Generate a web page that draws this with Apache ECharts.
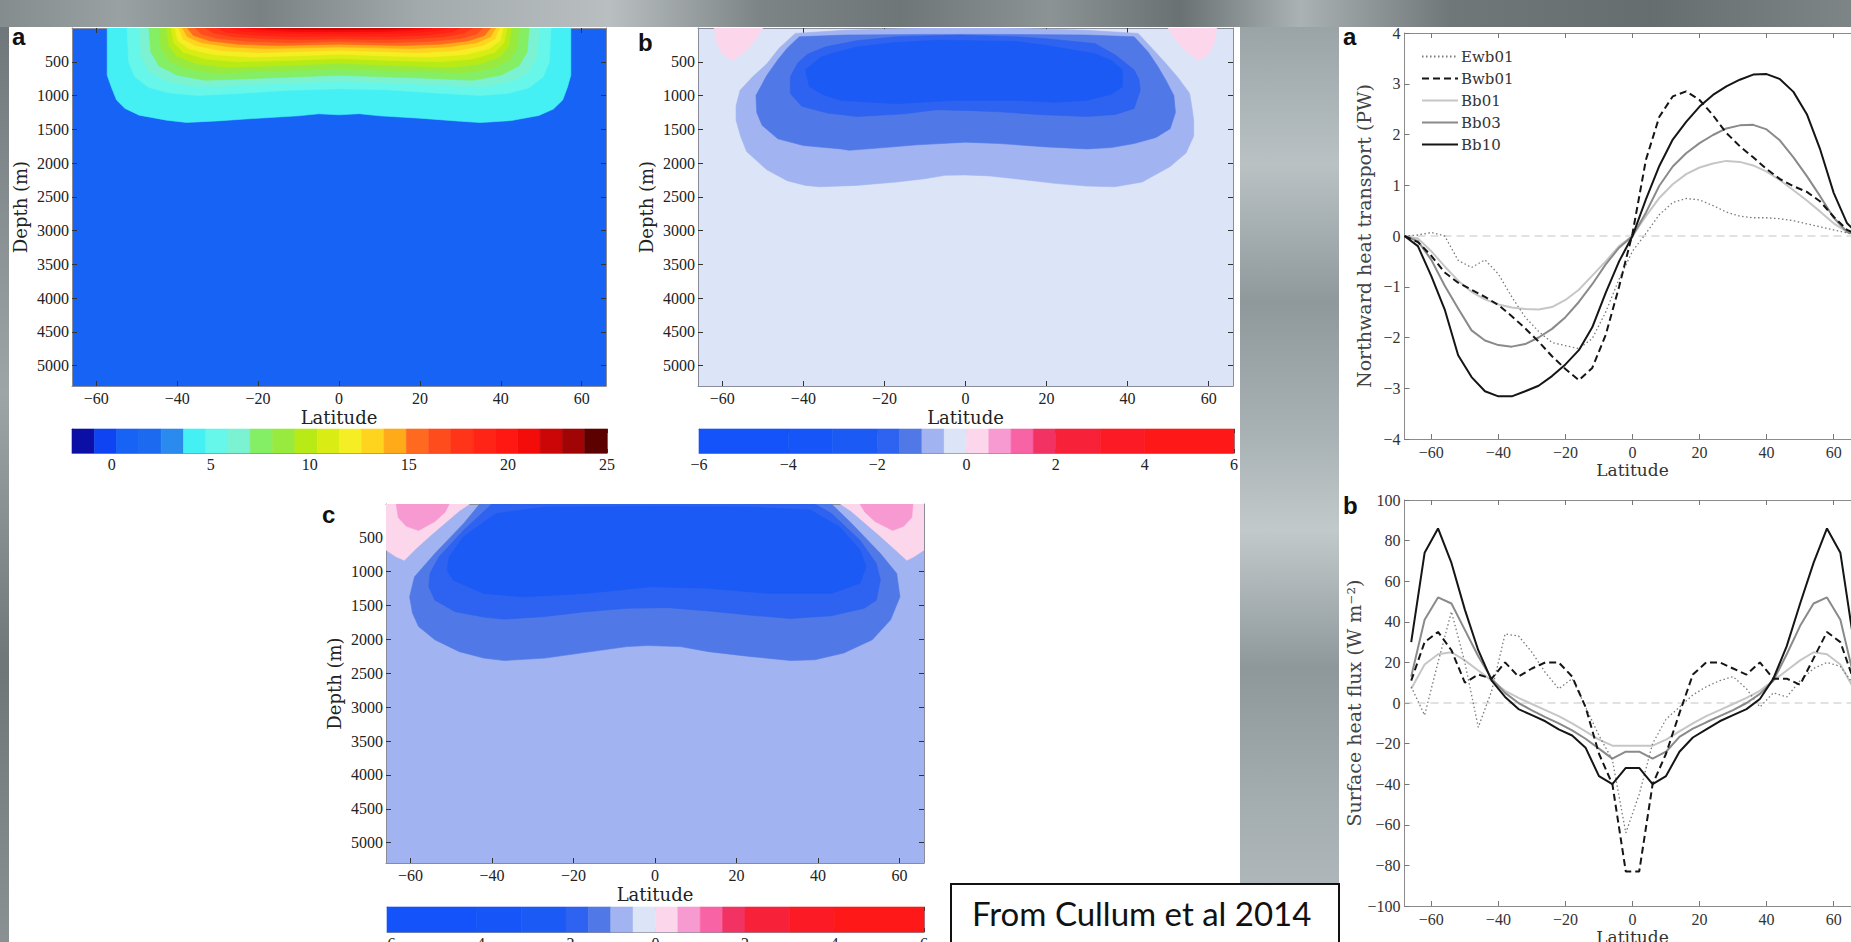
<!DOCTYPE html>
<html><head><meta charset="utf-8">
<script src="https://cdn.jsdelivr.net/npm/echarts@6/dist/echarts.min.js"></script>
<style>
html,body{margin:0;padding:0;width:1851px;height:942px;overflow:hidden;background:#8e9799;}
.bg{position:absolute;}
#chart{position:absolute;left:0;top:0;width:1851px;height:942px;}
</style></head><body>
<div class="bg" style="left:0;top:0;width:1851px;height:27px;background:linear-gradient(90deg,#858c8e 0px,#9aa1a3 120px,#7a8183 260px,#a3aaac 420px,#b9bfc1 610px,#7d8486 760px,#6f7678 900px,#8c9395 1050px,#6a7173 1180px,#aab2b4 1300px,#6f7779 1450px,#666d6f 1650px,#7e8587 1851px);"></div>
<div class="bg" style="left:0;top:27px;width:9px;height:915px;background:linear-gradient(180deg,#70777a,#9ea5a7 40%,#6f7678 70%,#8a9193);"></div>
<div class="bg" style="left:1240px;top:27px;width:99px;height:915px;background:linear-gradient(180deg,#9aa4a6 0,#b9c1c3 15%,#8f999b 30%,#a9b2b4 45%,#c2c9cb 55%,#8e989a 70%,#a4adb0 85%,#b5bdbf 100%);"></div>
<div class="bg" style="left:9px;top:27px;width:1231px;height:915px;background:#fff;"></div>
<div class="bg" style="left:1339px;top:27px;width:512px;height:915px;background:#fff;"></div>
<div id="chart"></div>
<script>
// ---------------- tick labels ----------------
const latTicks = [-60, -40, -20, 0, 20, 40, 60];
const depthTicks = [500, 1000, 1500, 2000, 2500, 3000, 3500, 4000, 4500, 5000];
const cbarATicks = [0, 5, 10, 15, 20, 25];
const cbarBTicks = [-6, -4, -2, 0, 2, 4, 6];

// ---------------- colour bars ----------------
const cbarAEdges = [-2, -0.875, 0.25, 1.375, 2.5, 3.625, 4.75, 5.875, 7, 8.125, 9.25, 10.375, 11.5, 12.625, 13.75, 14.875, 16, 17.125, 18.25, 19.375, 20.5, 21.625, 22.75, 23.875, 25];
const cbarAColors = ['#0B0FA6','#0E44F2','#1763F6','#1C6AF0','#2A8AEE','#45F0F5','#66F6EA','#7BF3D2','#84EE64','#98EB3E','#B8EB16','#D9EC14','#F6EE24','#FFD41E','#FFAA18','#FF6A20','#FF4C1C','#FF3418','#FF2416','#FF1812','#F40C0A','#CC0606','#A00404','#5C0000'];
const cbarBEdges = [-6, -4, -3, -2, -1.5, -1, -0.5, 0, 0.5, 1, 1.5, 2, 3, 4, 6];
const cbarBColors = ['#1452FA','#1656F8','#1B5AF5','#2E62F0','#5078E6','#A1B3F0','#DCE4F7','#FCD7EC','#F89AD2','#F863A5','#F23262','#F8213A','#FC1A24','#FF1818'];

// ---------------- panel a contours (lat, depth m) ----------------
const aLevel6 = [[-57.3,0],[-57.3,700],[-56.3,870],[-55,1065],[-52.9,1190],[-49.4,1290],[-42.6,1365],[-37.7,1398],[-30,1375],[-20,1335],[-10,1300],[-5,1270],[0,1285],[5,1268],[10,1300],[20,1335],[30,1380],[35,1400],[42.6,1370],[49.4,1295],[53,1200],[55.3,1065],[56.5,870],[57.3,700],[57.3,0]];
const aLevel7 = [[-52.4,0],[-52,500],[-50.5,720],[-47,880],[-42,960],[-35,1000],[-25,970],[-12,920],[0,900],[12,915],[25,965],[35,1000],[42,965],[47,885],[50.5,720],[52,500],[52.4,0]];
const aLevel8 = [[-49.5,0],[-49,420],[-47,640],[-43,780],[-37,860],[-30,870],[-18,830],[0,790],[18,825],[30,865],[37,860],[43,785],[47,645],[49,420],[49.5,0]];
const aLevel9 = [[-47,0],[-46.5,360],[-44.5,560],[-40,700],[-33,775],[-22,750],[0,700],[22,745],[33,775],[40,700],[44.5,560],[46.5,360],[47,0]];
const aLevel10 = [[-44.5,0],[-44,300],[-42,480],[-38,600],[-31,665],[-20,645],[0,600],[20,645],[31,665],[38,600],[42,480],[44,300],[44.5,0]];
const aLevel11 = [[-42.6,0],[-42,260],[-40,420],[-35,530],[-28,580],[-16,560],[0,520],[16,560],[28,580],[35,530],[40,420],[42,260],[42.6,0]];
const aLevel12 = [[-41.5,0],[-40.8,220],[-38.5,360],[-33,460],[-25,500],[-12,480],[0,450],[12,480],[25,500],[33,460],[38.5,360],[40.8,220],[41.5,0]];
const aLevel13 = [[-40.6,0],[-39.8,190],[-37,310],[-31,395],[-22,430],[-10,410],[0,390],[10,410],[22,430],[31,395],[37,310],[39.8,190],[40.6,0]];
const aLevel14 = [[-39.6,0],[-38.6,160],[-35.5,260],[-29,335],[-20,365],[-8,345],[0,330],[8,345],[20,365],[29,335],[35.5,260],[38.6,160],[39.6,0]];
const aLevel15 = [[-38.7,0],[-37.5,130],[-34,220],[-27,280],[-18,305],[-6,290],[0,280],[6,290],[18,305],[27,280],[34,220],[37.5,130],[38.7,0]];
const aLevel16 = [[-37.5,0],[-36,110],[-32,190],[-25,240],[-15,260],[0,240],[15,260],[25,240],[32,190],[36,110],[37.5,0]];
const aLevel17 = [[-35.5,0],[-34,90],[-30,155],[-22,200],[-12,215],[0,200],[12,215],[22,200],[30,155],[34,90],[35.5,0]];
const aLevel18 = [[-33,0],[-31,75],[-26,130],[-18,160],[-8,170],[0,160],[8,170],[18,160],[26,130],[31,75],[33,0]];
const aLevel19 = [[-30,0],[-28,60],[-22,100],[-12,125],[0,120],[12,125],[22,100],[28,60],[30,0]];
const aLevel20 = [[-27,0],[-24,45],[-17,75],[-6,90],[6,90],[17,75],[24,45],[27,0]];
const aLevel21 = [[-23,0],[-19,30],[-10,55],[0,55],[10,55],[19,30],[23,0]];
const aLevel22 = [[-18,0],[-12,18],[0,28],[12,18],[18,0]];
const panelALayers = [[aLevel6,5],[aLevel7,6],[aLevel8,7],[aLevel9,8],[aLevel10,9],[aLevel11,10],[aLevel12,11],[aLevel13,12],[aLevel14,13],[aLevel15,14],[aLevel16,15],[aLevel17,16],[aLevel18,17],[aLevel19,18],[aLevel20,19],[aLevel21,20],[aLevel22,21]];

// ---------------- panel b contours ----------------
const bPinkWest = [[-62,0],[-50,0],[-51.5,150],[-54,330],[-57.5,480],[-60,380],[-61.5,200]];
const bPinkEast = [[50,0],[62,0],[61.5,200],[60,380],[57.5,480],[54,330],[51.5,150]];
const bBand1 = [[-42,80],[-46,300],[-49,530],[-52.5,720],[-55.6,920],[-56.6,1150],[-56.6,1365],[-55.5,1600],[-54,1830],[-49,2100],[-44,2260],[-39.5,2330],[-36,2350],[-27,2330],[-17,2280],[-10,2230],[-5,2180],[0,2175],[6,2190],[15,2250],[22,2300],[30,2340],[36.8,2350],[43.6,2280],[50.5,2050],[54.4,1850],[56.3,1600],[56.3,1365],[55.8,1150],[55.3,970],[52.5,740],[49.5,530],[46,300],[42.6,80],[30,35],[10,0],[-10,0],[-30,35]];
const bBand2 = [[-41,130],[-44,300],[-46.3,470],[-49,700],[-51.7,1000],[-51.5,1250],[-50.2,1440],[-46.3,1640],[-40,1740],[-30.7,1790],[-28.7,1810],[-20,1770],[-12,1730],[0,1690],[8.4,1710],[20,1760],[30,1790],[36,1770],[41.6,1710],[47,1620],[50.5,1490],[51.8,1250],[51.4,1000],[49.5,780],[47.5,575],[45,350],[41.6,130],[30,105],[10,95],[-10,95],[-30,105]];
const bBand3 = [[-41.4,520],[-43.2,720],[-43.2,970],[-40.4,1160],[-34,1260],[-26.8,1310],[-15,1270],[-7.2,1210],[0,1220],[8.4,1240],[18,1280],[30,1310],[37,1280],[41.6,1190],[43.1,920],[42.8,760],[41.6,620],[37,400],[31.9,230],[20,160],[12.3,130],[-1.4,105],[-17,130],[-27,190],[-34.6,280],[-39,390]];
const bBand4 = [[-39.5,620],[-38.5,870],[-35,990],[-30.7,1070],[-17,1120],[-2.3,1070],[12.3,1070],[22,1100],[30,1070],[36,980],[38.7,870],[38.7,620],[36,480],[31.9,380],[20,260],[12.3,200],[-7.2,180],[-18,220],[-26.8,280],[-32,360],[-35.6,430]];
const panelBLayers = [[bPinkWest,7],[bPinkEast,7],[bBand1,5],[bBand2,4],[bBand3,3],[bBand4,2]];

// ---------------- panel c contours ----------------
const cPinkWest = [[-66,0],[-45.5,0],[-48,100],[-51.5,280],[-55,460],[-58.5,650],[-61.5,830],[-63.5,780],[-66,680]];
const cPinkEast = [[45.5,0],[66,0],[66,680],[63.5,780],[61.8,830],[58.5,650],[55,460],[51.5,280],[48,100]];
const cPinkCoreWest = [[-63.5,0],[-50.5,0],[-51.5,120],[-54,260],[-58,390],[-61,330],[-63,200]];
const cPinkCoreEast = [[50.3,0],[63.3,0],[63,200],[61,330],[58.3,390],[54,260],[51.5,120]];
const cBand1 = [[-43,0],[-47,290],[-54,730],[-59,1075],[-60.2,1370],[-59.5,1610],[-58,1810],[-54,2005],[-48,2180],[-42,2275],[-37,2310],[-27,2275],[-17,2190],[-6.9,2105],[-1.9,2090],[6.2,2105],[13.2,2180],[23.2,2250],[33.2,2310],[39.2,2300],[46.3,2200],[53.3,2005],[57.8,1710],[60.1,1370],[59.3,1025],[55.3,730],[48.3,290],[43.3,0]];
const cBand2 = [[-40,0],[-47,390],[-53,780],[-55.2,1025],[-55.5,1220],[-54,1420],[-49,1590],[-42,1670],[-37,1700],[-27,1660],[-17,1590],[-6.9,1540],[3.2,1530],[13.2,1580],[23.2,1640],[33.2,1690],[43.3,1650],[51.3,1540],[54.3,1420],[55.3,1120],[54.3,880],[50.3,535],[43.3,140],[39.2,0]];
const cBand3 = [[-39,140],[-47,485],[-50.5,780],[-51,980],[-49.5,1125],[-42,1320],[-32,1370],[-17,1320],[-0.9,1220],[13.2,1245],[28.2,1320],[43.3,1320],[50.3,1170],[51.8,925],[50.3,680],[45.3,340],[38.2,90],[23.2,45],[-0.9,35],[-27,45]];
const panelCLayers = [[cPinkWest,7],[cPinkEast,7],[cPinkCoreWest,8],[cPinkCoreEast,8],[cBand1,4],[cBand2,3],[cBand3,2]];

// ---------------- northward heat transport (PW) ----------------
const latTransport = [-68,-64,-60,-56,-52,-48,-44,-40,-36,-32,-28,-24,-20,-16,-12,-8,-4,0,4,8,12,16,20,24,28,32,36,40,44,48,52,56,60,64,68];
const ewb01Transport = [0,0.02,0.07,0,-0.48,-0.62,-0.47,-0.75,-1.2,-1.6,-1.88,-2.1,-2.16,-2.22,-2.02,-1.5,-0.85,-0.3,0.05,0.42,0.66,0.74,0.71,0.6,0.47,0.39,0.36,0.36,0.34,0.3,0.24,0.18,0.12,0.06,0];
const bwb01Transport = [0,-0.12,-0.39,-0.72,-0.92,-1.06,-1.2,-1.36,-1.58,-1.82,-2.08,-2.37,-2.62,-2.84,-2.6,-1.95,-1.0,0.05,1.5,2.35,2.75,2.85,2.68,2.38,2.03,1.77,1.55,1.32,1.12,0.98,0.87,0.68,0.38,0.12,0];
const bb01Transport = [0,-0.05,-0.3,-0.6,-0.88,-1.1,-1.25,-1.35,-1.41,-1.44,-1.45,-1.4,-1.26,-1.06,-0.78,-0.5,-0.2,0,0.39,0.75,1.02,1.22,1.35,1.43,1.48,1.46,1.39,1.27,1.1,0.9,0.7,0.48,0.25,0.08,0];
const bb03Transport = [0,-0.1,-0.47,-0.98,-1.43,-1.86,-2.06,-2.15,-2.18,-2.13,-2.0,-1.83,-1.6,-1.3,-0.95,-0.56,-0.23,0,0.46,0.99,1.37,1.63,1.83,1.99,2.12,2.18,2.19,2.1,1.88,1.55,1.18,0.78,0.36,0.08,0];
const bb10Transport = [0,-0.2,-0.79,-1.45,-2.35,-2.78,-3.06,-3.16,-3.16,-3.06,-2.95,-2.76,-2.53,-2.25,-1.8,-1.12,-0.5,0,0.72,1.38,1.9,2.25,2.55,2.78,2.95,3.08,3.18,3.19,3.09,2.84,2.4,1.7,0.85,0.25,0];
const zeroTransport = [[-68,0],[68,0]];

// ---------------- surface heat flux (W m-2) ----------------
const latFlux = [-66,-62,-58,-54,-50,-46,-42,-38,-34,-30,-26,-22,-18,-14,-10,-6,-2,2,6,10,14,18,22,26,30,34,38,42,46,50,54,58,62,66];
const ewb01Flux = [8,-6,20,45,20,-12,6,34,33,25,15,7,12,-2,-16,-28,-64,-45,-20,-8,-2,4,8,11,13,7,-2,5,3,11,17,20,18,9];
const bwb01Flux = [11,30,35,26,10,14,12,20,13,17,20,20,13,-2,-25,-40,-83,-83,-40,-25,-5,14,20,20,17,14,20,12,12,9,22,35,30,11];
const bb01Flux = [7,19,24,25,21,16,11,6,2.5,-0.5,-3.5,-6.5,-10,-14,-18,-21,-21,-21,-21,-18,-14,-10,-6.5,-3.5,-0.5,2.5,6,11,16,21,25,24,19,7];
const bb03Flux = [13,41,52,49,36,23,12,5,0,-3.6,-7,-10,-13.5,-17.6,-22.5,-27.4,-24,-24,-27.4,-24,-16.7,-12.6,-9.5,-6.5,-3.5,0,4.5,11,24,38,49,52,41,13];
const bb10Flux = [30,74,86,69,46,26,11,3,-3,-6,-9,-13,-16,-22,-36,-40,-32,-32,-40,-36,-24,-17,-13,-9,-6,-3,2,12,28,49,69,86,74,30];
const zeroFlux = [[-68,0],[68,0]];

const seriesNames = ['Ewb01','Bwb01','Bb01','Bb03','Bb10'];

// ---------------- build ----------------
const serif = '"Liberation Serif", "Times New Roman", serif';
const serifTitle = '"DejaVu Serif", serif';
const minus = v => String(v).replace('-', '\u2212');

const grids = [
  {left:72, top:28, width:534, height:358},     // 0 panel a
  {left:698, top:28, width:535, height:358},    // 1 panel b
  {left:386, top:504, width:538, height:359},   // 2 panel c
  {left:72, top:429, width:535, height:24},     // 3 colorbar a
  {left:699, top:429, width:535, height:24},    // 4 colorbar b
  {left:387, top:907, width:537, height:25},    // 5 colorbar c
  {left:1404.5, top:33, width:456, height:406}, // 6 upper right
  {left:1404.5, top:500, width:456, height:406} // 7 lower right
];
grids.forEach(g => { g.outerBoundsMode = 'none'; g.containLabel = false; });
const xAxes = [], yAxes = [], series = [];
const addX = c => { xAxes.push(c); return xAxes.length - 1; };
const addY = c => { yAxes.push(c); return yAxes.length - 1; };

function polygonSeries(xi, yi, pts, color) {
  return {
    type:'custom', xAxisIndex:xi, yAxisIndex:yi, data:pts, silent:true, clip:true, animation:false,
    renderItem: function (params, api) {
      if (params.dataIndex !== 0) return null;
      return { type:'polygon', shape:{ points: pts.map(p => api.coord(p)) },
               style:{ fill:color, stroke:color, lineWidth:0.6 } };
    }
  };
}

function contourPanel(g, layers, colors, base) {
  grids[g].show = true; grids[g].backgroundColor = base; grids[g].borderWidth = 0;
  const axisLine = {show:true, onZero:false, lineStyle:{color:'#8a8d99', width:1}};
  const tick = {show:true, inside:true, length:5, lineStyle:{color:'#333'}};
  const xb = addX({gridIndex:g, type:'value', min:-66, max:66, position:'bottom', axisLine,
    axisTick:Object.assign({customValues:latTicks}, tick),
    axisLabel:{customValues:latTicks, formatter:minus, fontFamily:serif, fontSize:16, color:'#222', margin:4},
    splitLine:{show:false}, name:'Latitude', nameLocation:'middle', nameGap:22,
    nameTextStyle:{fontFamily:serifTitle, fontSize:18, color:'#222'}});
  addX({gridIndex:g, type:'value', min:-66, max:66, position:'top', axisLine,
    axisTick:Object.assign({customValues:latTicks}, tick), axisLabel:{show:false}, splitLine:{show:false}});
  const yl = addY({gridIndex:g, type:'value', inverse:true, min:0, max:5300, position:'left', axisLine,
    axisTick:Object.assign({customValues:depthTicks}, tick),
    axisLabel:{customValues:depthTicks, formatter:v => String(v), fontFamily:serif, fontSize:16, color:'#222', margin:3},
    splitLine:{show:false}, name:'Depth (m)', nameLocation:'middle', nameRotate:90, nameGap:43,
    nameTextStyle:{fontFamily:serifTitle, fontSize:18, color:'#222'}});
  addY({gridIndex:g, type:'value', inverse:true, min:0, max:5300, position:'right', axisLine,
    axisTick:Object.assign({customValues:depthTicks}, tick), axisLabel:{show:false}, splitLine:{show:false}});
  layers.forEach(l => series.push(polygonSeries(xb, yl, l[0], colors[l[1]])));
}

function colorbar(g, edges, colors, ticks) {
  const mn = edges[0], mx = edges[edges.length - 1];
  const axisLine = {show:true, onZero:false, lineStyle:{color:'#8a8d99', width:1}};
  const tick = {show:true, inside:true, length:4, customValues:ticks, lineStyle:{color:'#333'}};
  const xb = addX({gridIndex:g, type:'value', min:mn, max:mx, position:'bottom', axisLine, axisTick:tick,
    axisLabel:{customValues:ticks, formatter:minus, fontFamily:serif, fontSize:16, color:'#222', margin:3},
    splitLine:{show:false}});
  addX({gridIndex:g, type:'value', min:mn, max:mx, position:'top', axisLine, axisTick:tick,
    axisLabel:{show:false}, splitLine:{show:false}});
  const yl = addY({gridIndex:g, type:'value', min:0, max:1, position:'left', axisLine,
    axisTick:{show:false}, axisLabel:{show:false}, splitLine:{show:false}});
  addY({gridIndex:g, type:'value', min:0, max:1, position:'right', axisLine,
    axisTick:{show:false}, axisLabel:{show:false}, splitLine:{show:false}});
  const bins = edges.slice(0, -1).map((e, i) => [e, edges[i + 1], i]);
  series.push({type:'custom', xAxisIndex:xb, yAxisIndex:yl, data:bins, silent:true, animation:false,
    encode:{x:[0,1]}, z:1,
    renderItem: function (params, api) {
      const p0 = api.coord([api.value(0), 1]);
      const p1 = api.coord([api.value(1), 0]);
      const c = colors[api.value(2)];
      return {type:'rect', shape:{x:p0[0], y:p0[1], width:p1[0]-p0[0], height:p1[1]-p0[1]},
              style:{fill:c, stroke:c, lineWidth:0.6}};
    }});
}

function linePanel(g, yMin, yMax, yInt, yName, nameGap) {
  const axisLine = {show:true, onZero:false, lineStyle:{color:'#8c8c8c', width:1}};
  const tick = {show:true, inside:true, length:5, lineStyle:{color:'#777'}};
  const xb = addX({gridIndex:g, type:'value', min:-68, max:68, position:'bottom', axisLine,
    axisTick:Object.assign({customValues:latTicks}, tick),
    axisLabel:{customValues:latTicks, formatter:minus, fontFamily:serif, fontSize:16, color:'#333', margin:5},
    splitLine:{show:false}, name:'Latitude', nameLocation:'middle', nameGap:22,
    nameTextStyle:{fontFamily:serifTitle, fontSize:17, color:'#333'}});
  addX({gridIndex:g, type:'value', min:-68, max:68, position:'top', axisLine,
    axisTick:Object.assign({customValues:latTicks}, tick), axisLabel:{show:false}, splitLine:{show:false}});
  const yl = addY({gridIndex:g, type:'value', min:yMin, max:yMax, interval:yInt, position:'left', axisLine,
    axisTick:tick, axisLabel:{formatter:minus, fontFamily:serif, fontSize:16, color:'#333', margin:4},
    splitLine:{show:false}, name:yName, nameLocation:'middle', nameRotate:90, nameGap,
    nameTextStyle:{fontFamily:serifTitle, fontSize:19, color:'#444'}});
  return [xb, yl];
}

function lineSeries(name, xi, yi, lats, vals, style) {
  return {type:'line', name, xAxisIndex:xi, yAxisIndex:yi, data:lats.map((x, i) => [x, vals[i]]),
    symbol:'none', lineStyle:style, itemStyle:{color:style.color}, color:style.color,
    silent:true, animation:false, z:3};
}

contourPanel(0, panelALayers, cbarAColors, cbarAColors[2]);
contourPanel(1, panelBLayers, cbarBColors, cbarBColors[6]);
contourPanel(2, panelCLayers, cbarBColors, cbarBColors[5]);
colorbar(3, cbarAEdges, cbarAColors, cbarATicks);
colorbar(4, cbarBEdges, cbarBColors, cbarBTicks);
colorbar(5, cbarBEdges, cbarBColors, cbarBTicks);

const styles = {
  Ewb01:{color:'#7a7a7a', width:1.3, type:[1.5,2.5]},
  Bwb01:{color:'#151515', width:2, type:[7,4]},
  Bb01:{color:'#c6c6c6', width:2, type:'solid'},
  Bb03:{color:'#8a8a8a', width:2, type:'solid'},
  Bb10:{color:'#151515', width:2, type:'solid'}
};
const zeroStyle = {color:'#c4c4c4', width:1, type:[8,5]};

const [ux, uy] = linePanel(6, -4, 4, 1, 'Northward heat transport (PW)', 31);
series.push(lineSeries('zeroT', ux, uy, zeroTransport.map(p => p[0]), zeroTransport.map(p => p[1]), zeroStyle));
const transportVals = {Ewb01:ewb01Transport, Bwb01:bwb01Transport, Bb01:bb01Transport, Bb03:bb03Transport, Bb10:bb10Transport};
['Bb01','Bb03','Ewb01','Bwb01','Bb10'].forEach(n => series.push(lineSeries(n, ux, uy, latTransport, transportVals[n], styles[n])));

const [lx, ly] = linePanel(7, -100, 100, 20, 'Surface heat flux (W m\u207B\u00B2)', 41);
series.push(lineSeries('zeroF', lx, ly, zeroFlux.map(p => p[0]), zeroFlux.map(p => p[1]), zeroStyle));
const fluxVals = {Ewb01:ewb01Flux, Bwb01:bwb01Flux, Bb01:bb01Flux, Bb03:bb03Flux, Bb10:bb10Flux};
['Bb01','Bb03','Ewb01','Bwb01','Bb10'].forEach(n => series.push(lineSeries(n, lx, ly, latFlux, fluxVals[n], styles[n])));

const letterFont = 'bold 24px "Liberation Sans", Arial, sans-serif';
const chart = echarts.init(document.getElementById('chart'), null, {renderer:'svg', width:1851, height:942});
chart.setOption({
  backgroundColor:'transparent',
  animation:false,
  textStyle:{fontFamily:serif},
  grid:grids,
  xAxis:xAxes,
  yAxis:yAxes,
  series:series,
  legend:{data:seriesNames, orient:'vertical', left:1416, top:44, itemWidth:36, itemHeight:12, itemGap:7,
    selectedMode:false, itemStyle:{opacity:0}, lineStyle:{opacity:1},
    textStyle:{fontFamily:serifTitle, fontSize:15, color:'#333', padding:[0,0,0,-2]}},
  graphic:[
    {type:'text', x:12, y:36, style:{text:'a', font:letterFont, fill:'#111', verticalAlign:'middle'}},
    {type:'text', x:638, y:42, style:{text:'b', font:letterFont, fill:'#111', verticalAlign:'middle'}},
    {type:'text', x:322, y:514, style:{text:'c', font:letterFont, fill:'#111', verticalAlign:'middle'}},
    {type:'text', x:1343, y:36, style:{text:'a', font:letterFont, fill:'#111', verticalAlign:'middle'}},
    {type:'text', x:1343, y:505, style:{text:'b', font:letterFont, fill:'#111', verticalAlign:'middle'}},
    {type:'rect', shape:{x:951, y:884, width:388, height:80}, style:{fill:'#fff', stroke:'#111', lineWidth:2}},
    {type:'text', x:972, y:913, style:{text:'From Cullum et al 2014', font:'33px Lato, "Open Sans", sans-serif', fill:'#111', verticalAlign:'middle'}}
  ]
});
</script>
</body></html>
